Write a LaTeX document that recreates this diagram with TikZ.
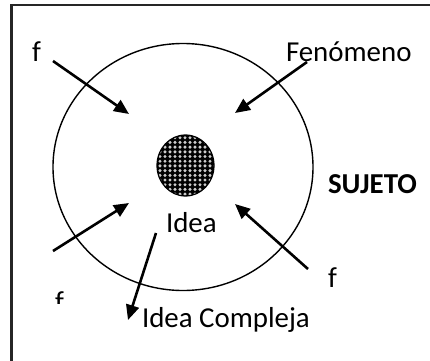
\documentclass[tikz,border=0pt]{standalone}
\usepackage{fontspec}
\setmainfont{Carlito}
\usetikzlibrary{arrows.meta}

\begin{document}
\begin{tikzpicture}[x=1bp, y=-1bp,
      every node/.append style={inner sep=0pt,outer sep=0pt,anchor=base west,font=\fontsize{29}{35}\selectfont},
      arrow/.style={line width=2.6bp,-{Triangle[length=15bp,width=13bp]}}]
    \tikzstyle{word} = [color=black]
    \useasboundingbox (0,0) rectangle (430,361);
    \clip (0,0) rectangle (430,361);
    \draw[line width=2bp,black!85] (11.5,4.5) rectangle (450,380);
    \draw[line width=1.4bp] (183,167) ellipse [x radius=130bp, y radius=123.5bp];
    \begin{scope}
      \clip (185.5,165.5) ellipse [x radius=28.5bp, y radius=30.5bp];
      \fill[black] (150,130) rectangle (220,200);
      \foreach \i in {0,...,13}
        \foreach \j in {0,...,14}
          \fill[white!80!black] (155+5*\i, 133+4.7*\j) circle [radius=1.7bp];
    \end{scope}
    \draw[line width=1.2bp] (185.5,165.5) ellipse [x radius=28.5bp, y radius=30.5bp];
    \node[word] (f_top) at (32,61) {f};
    \node[word] (fenomeno) at (286,61) {Fenómeno};
    \node[word,font=\fontsize{29}{35}\selectfont\bfseries] (sujeto) at (328,193) {SUJETO};
    \node[word] (idea) at (166,232) {Idea};
    \node[word] (f_right) at (328,287) {f};
    \node[word] (idea_compleja) at (142,327) {Idea Compleja};
    \begin{scope}
      \clip (40,285) rectangle (80,303.5);
      \node[word] (f_left) at (55,311) {f};
    \end{scope}
    \coordinate (f_top_tail) at (53,61);
    \coordinate (f_top_tip) at (129,114);
    \coordinate (fenomeno_tail) at (307,62);
    \coordinate (fenomeno_tip) at (235,113);
    \coordinate (f_left_tail) at (53,251);
    \coordinate (f_left_tip) at (129,203);
    \coordinate (f_right_tail) at (308,269);
    \coordinate (f_right_tip) at (235,204);
    \coordinate (idea_tail) at (156,233);
    \coordinate (idea_tip) at (128,320);
    \draw[arrow] (f_top_tail) -- (f_top_tip);
    \draw[arrow] (fenomeno_tail) -- (fenomeno_tip);
    \draw[arrow] (f_left_tail) -- (f_left_tip);
    \draw[arrow] (f_right_tail) -- (f_right_tip);
    \draw[arrow] (idea_tail) -- (idea_tip);
\end{tikzpicture}
\end{document}
